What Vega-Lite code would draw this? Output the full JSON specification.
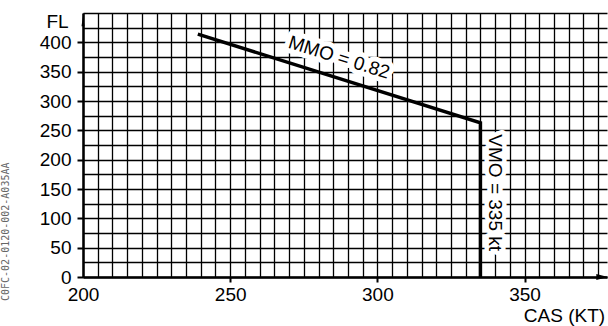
{
  "$schema": "https://vega.github.io/schema/vega-lite/v6.json",
  "width": 524,
  "height": 264,
  "autosize": {"type": "none"},
  "padding": {"left": 83, "top": 13, "right": 1, "bottom": 49},
  "background": "white",
  "view": {"stroke": null},
  "config": {"font": "Liberation Sans"},
  "title": {
    "text": "C0FC-02-0120-002-A035AA",
    "orient": "left",
    "anchor": "start",
    "frame": "group",
    "font": "DejaVu Sans Mono",
    "fontSize": 10,
    "fontWeight": "normal",
    "color": "#666666",
    "offset": 28,
    "dx": -24
  },
  "encoding": {
    "x": {
      "field": "cas",
      "type": "quantitative",
      "scale": {"domain": [200, 378], "nice": false, "zero": false},
      "axis": {
        "values": [200,205,210,215,220,225,230,235,240,245,250,255,260,265,270,275,280,285,290,295,300,305,310,315,320,325,330,335,340,345,350,355,360,365,370,375],
        "format": "d",
        "labelExpr": "datum.value % 50 === 0 ? datum.label : ''",
        "grid": true,
        "gridColor": "#000000",
        "gridWidth": 1.3,
        "gridOpacity": 1,
        "domainColor": "#000000",
        "domainWidth": 2.5,
        "tickColor": "#000000",
        "tickWidth": 2,
        "tickSize": 5,
        "tickOpacity": {"condition": {"test": "datum.value % 50 === 0 && datum.value > 200", "value": 1}, "value": 0},
        "labelFont": "Liberation Sans",
        "labelFontSize": 19,
        "labelColor": "#000000",
        "labelPadding": 3,
        "labelOverlap": false,
        "labelFlush": false,
        "title": "CAS (KT)",
        "titleFont": "Liberation Sans",
        "titleFontSize": 19,
        "titleFontWeight": "normal",
        "titleColor": "#000000",
        "titleX": 481,
        "titleY": 38,
        "titleAlign": "center",
        "titleBaseline": "middle"
      }
    },
    "y": {
      "field": "fl",
      "type": "quantitative",
      "scale": {"domain": [0, 450], "nice": false, "zero": true},
      "axis": {
        "values": [0,25,50,75,100,125,150,175,200,225,250,275,300,325,350,375,400,425,450],
        "format": "d",
        "labelExpr": "datum.value % 50 === 0 && datum.value <= 400 ? datum.label : ''",
        "grid": true,
        "gridColor": "#000000",
        "gridWidth": 1.3,
        "gridOpacity": 1,
        "domainColor": "#000000",
        "domainWidth": 2.5,
        "tickColor": "#000000",
        "tickWidth": 2,
        "tickSize": 6,
        "tickOpacity": {"condition": {"test": "datum.value % 50 === 0 && datum.value <= 400", "value": 1}, "value": 0},
        "labelFont": "Liberation Sans",
        "labelFontSize": 19,
        "labelColor": "#000000",
        "labelPadding": 6,
        "labelOverlap": false,
        "labelFlush": false,
        "labelBaseline": "middle",
        "title": "FL",
        "titleFont": "Liberation Sans",
        "titleFontSize": 19,
        "titleFontWeight": "normal",
        "titleColor": "#000000",
        "titleAngle": 0,
        "titleX": -26,
        "titleY": 8,
        "titleAlign": "center",
        "titleBaseline": "middle"
      }
    }
  },
  "layer": [
    {
      "data": {"values": [{"cas": 287, "fl": 374, "label": "MMO = 0.82"}]},
      "mark": {"type": "text", "angle": 17.4, "font": "Liberation Sans", "fontSize": 19, "fill": "white", "stroke": "white", "strokeWidth": 10, "strokeJoin": "round", "align": "center", "baseline": "middle"},
      "encoding": {"text": {"field": "label"}}
    },
    {
      "data": {"values": [{"cas": 340, "fl": 143.7, "label": "VMO = 335 kt"}]},
      "mark": {"type": "text", "angle": 90, "font": "Liberation Sans", "fontSize": 19, "fill": "white", "stroke": "white", "strokeWidth": 9, "strokeJoin": "round", "align": "center", "baseline": "middle"},
      "encoding": {"text": {"field": "label"}}
    },
    {
      "data": {"values": [{"cas": 239, "fl": 414, "i": 1}, {"cas": 335, "fl": 263, "i": 2}, {"cas": 335, "fl": 0, "i": 3}]},
      "mark": {"type": "line", "color": "#000000", "strokeWidth": 3.5, "strokeJoin": "miter"},
      "encoding": {"order": {"field": "i", "type": "quantitative"}}
    },
    {
      "data": {"values": [{"cas": 287, "fl": 374, "label": "MMO = 0.82"}]},
      "mark": {"type": "text", "angle": 17.4, "font": "Liberation Sans", "fontSize": 19, "fill": "#000000", "align": "center", "baseline": "middle"},
      "encoding": {"text": {"field": "label"}}
    },
    {
      "data": {"values": [{"cas": 340, "fl": 143.7, "label": "VMO = 335 kt"}]},
      "mark": {"type": "text", "angle": 90, "font": "Liberation Sans", "fontSize": 19, "fill": "#000000", "align": "center", "baseline": "middle"},
      "encoding": {"text": {"field": "label"}}
    },
    {
      "data": {"values": [{"cas": 200, "fl": 436}]},
      "mark": {"type": "point", "shape": "M0,-1L-0.3,1L0.3,1Z", "size": 100, "filled": true, "color": "#000000", "opacity": 1},
      "encoding": {}
    },
    {
      "data": {"values": [{"cas": 376.4, "fl": 0}]},
      "mark": {"type": "point", "shape": "M1,0L-1,-0.5L-1,0.5Z", "size": 144, "filled": true, "color": "#000000", "opacity": 1},
      "encoding": {}
    }
  ]
}
